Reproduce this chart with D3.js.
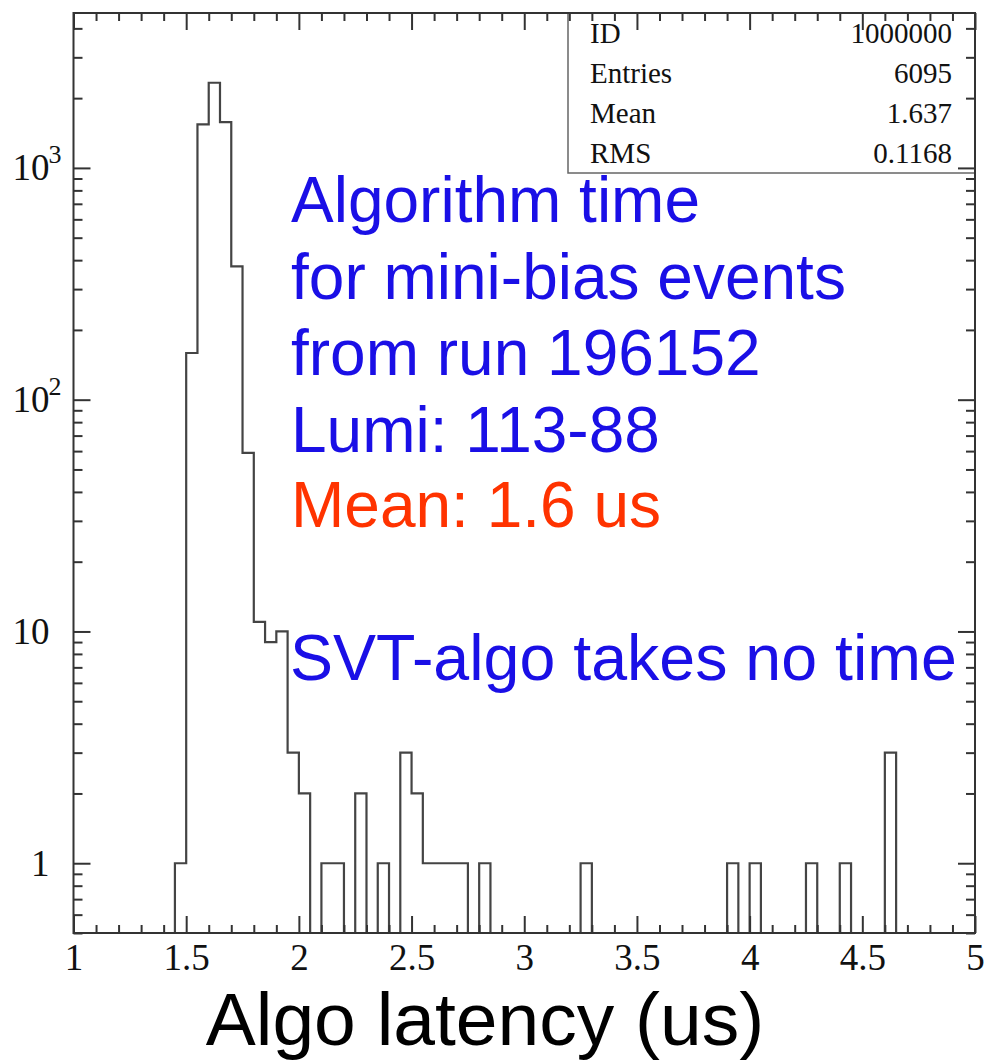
<!DOCTYPE html>
<html>
<head>
<meta charset="utf-8">
<script src="https://cdn.jsdelivr.net/npm/d3@7"></script>
<style>
  html, body { margin: 0; padding: 0; background: #fff; }
  svg { display: block; }
</style>
</head>
<body>
<svg id="chart" width="986" height="1060"></svg>
<script>
// ---- data ----
const binWidth = 0.05;
const binLow = [1.45, 1.50, 1.55, 1.60, 1.65, 1.70, 1.75, 1.80, 1.85, 1.90, 1.95, 2.00,
                2.10, 2.15, 2.25, 2.35, 2.45, 2.50, 2.55, 2.60, 2.65, 2.70, 2.80,
                3.25, 3.90, 4.00, 4.25, 4.40, 4.60];
const counts = [1, 159, 1540, 2330, 1575, 376, 59, 11, 9, 10, 3, 2,
                1, 1, 2, 1, 3, 2, 1, 1, 1, 1, 1,
                1, 1, 1, 1, 1, 3];
const xMajorTicks = [1, 1.5, 2, 2.5, 3, 3.5, 4, 4.5, 5];
const xTickLabels = ["1", "1.5", "2", "2.5", "3", "3.5", "4", "4.5", "5"];
const yMajorTicks = [1, 10, 100, 1000];
const yTickBase = ["1", "10", "10", "10"];
const yTickExp = ["", "", "2", "3"];
const statLabels = ["ID", "Entries", "Mean", "RMS"];
const statValues = ["1000000", "6095", "1.637", "0.1168"];
const noteLines = ["Algorithm time", "for mini-bias events", "from run 196152", "Lumi: 113-88"];
const meanNote = "Mean: 1.6 us";
const svtNote = "SVT-algo takes no time";
const xTitle = "Algo latency (us)";
const xDomain = [1, 5];
const yDomain = [0.5, 4660];

// ---- layout ----
const L = 73.5, R = 975, T = 13, B = 933;
const svg = d3.select("#chart");
const x = d3.scaleLinear().domain(xDomain).range([L, R]);
const y = d3.scaleLog().domain(yDomain).range([B, T]);
const lineColor = "#333";

// ---- histogram outline ----
const pts = [];
let prevHi = null;
binLow.forEach((lo, i) => {
  const hi = +(lo + binWidth).toFixed(4);
  if (prevHi === null || Math.abs(prevHi - lo) > 1e-6) {
    if (prevHi !== null) pts.push([prevHi, yDomain[0]]);
    pts.push([lo, yDomain[0]]);
  }
  pts.push([lo, counts[i]]);
  pts.push([hi, counts[i]]);
  prevHi = hi;
});
pts.push([prevHi, yDomain[0]]);
const line = d3.line().x(d => x(d[0])).y(d => y(d[1]));
svg.append("path")
  .attr("d", line(pts))
  .attr("fill", "none")
  .attr("stroke", "#444")
  .attr("stroke-width", 2.2)
  .attr("stroke-linejoin", "miter");

// ---- stats box ----
const boxL = 568, boxB = 173;
svg.append("rect")
  .attr("x", boxL).attr("y", T).attr("width", R - boxL).attr("height", boxB - T)
  .attr("fill", "#fff").attr("stroke", "#666").attr("stroke-width", 1.5);
const statBase = [43, 83, 123, 163];
statLabels.forEach((s, i) => {
  svg.append("text").attr("x", 590).attr("y", statBase[i])
    .attr("font-family", "Liberation Serif, Times New Roman, serif")
    .attr("font-size", 29).attr("fill", "#111").text(s);
  svg.append("text").attr("x", 952).attr("y", statBase[i])
    .attr("text-anchor", "end")
    .attr("font-family", "Liberation Serif, Times New Roman, serif")
    .attr("font-size", 29).attr("fill", "#111").text(statValues[i]);
});

// ---- axes ----
const xMinor = d3.range(10, 51).map(v => v / 10).filter(v => Math.abs(v * 2 - Math.round(v * 2)) > 1e-6);
const yMinor = [];
[0.1, 1, 10, 100, 1000].forEach(dec => {
  for (let k = 2; k <= 9; k++) {
    const v = dec * k;
    if (v >= yDomain[0] && v <= yDomain[1]) yMinor.push(v);
  }
});

function styleAxis(g) {
  g.select(".domain").remove();
  g.selectAll(".tick line").attr("stroke", lineColor).attr("stroke-width", 2);
}
const serif = "Liberation Serif, Times New Roman, serif";

// bottom
const gBottom = svg.append("g").attr("transform", `translate(0,${B})`)
  .call(d3.axisBottom(x).tickValues(xMajorTicks).tickSize(-17).tickPadding(11)
        .tickFormat((d, i) => xTickLabels[i]))
  .call(styleAxis);
gBottom.selectAll("text").attr("font-family", serif).attr("font-size", 37).attr("fill", "#111");
svg.append("g").attr("transform", `translate(0,${B})`)
  .call(d3.axisBottom(x).tickValues(xMinor).tickSize(-8).tickFormat(""))
  .call(styleAxis);
// top
svg.append("g").attr("transform", `translate(0,${T})`)
  .call(d3.axisTop(x).tickValues(xMajorTicks).tickSize(-17).tickFormat(""))
  .call(styleAxis);
svg.append("g").attr("transform", `translate(0,${T})`)
  .call(d3.axisTop(x).tickValues(xMinor).tickSize(-8).tickFormat(""))
  .call(styleAxis);
// left
const gLeft = svg.append("g").attr("transform", `translate(${L},0)`)
  .call(d3.axisLeft(y).tickValues(yMajorTicks).tickSize(-17).tickFormat(""))
  .call(styleAxis);
gLeft.selectAll(".tick").each(function(d, i) {
  const g = d3.select(this);
  g.append("text").attr("x", -24).attr("y", 12)
    .attr("text-anchor", "end")
    .attr("font-family", serif).attr("font-size", 37).attr("fill", "#111")
    .text(yTickBase[i]);
  if (yTickExp[i]) {
    g.append("text").attr("x", -12).attr("y", -5)
      .attr("font-family", serif).attr("font-size", 26).attr("fill", "#111")
      .text(yTickExp[i]);
  }
});
svg.append("g").attr("transform", `translate(${L},0)`)
  .call(d3.axisLeft(y).tickValues(yMinor).tickSize(-9).tickFormat(""))
  .call(styleAxis);
// right
svg.append("g").attr("transform", `translate(${R},0)`)
  .call(d3.axisRight(y).tickValues(yMajorTicks).tickSize(-17).tickFormat(""))
  .call(styleAxis);
svg.append("g").attr("transform", `translate(${R},0)`)
  .call(d3.axisRight(y).tickValues(yMinor).tickSize(-9).tickFormat(""))
  .call(styleAxis);

// frame
svg.append("rect").attr("x", L).attr("y", T).attr("width", R - L).attr("height", B - T)
  .attr("fill", "none").attr("stroke", lineColor).attr("stroke-width", 2);

// ---- annotations ----
const sans = "Liberation Sans, Arial, Helvetica, sans-serif";
const blue = "#1a0fe6", red = "#ff3300";
const noteBase = [222, 298.5, 375, 451.5];
noteLines.forEach((s, i) => {
  svg.append("text").attr("x", 291).attr("y", noteBase[i])
    .attr("font-family", sans).attr("font-size", 64).attr("fill", blue).text(s);
});
svg.append("text").attr("x", 291).attr("y", 527)
  .attr("font-family", sans).attr("font-size", 64).attr("fill", red).text(meanNote);
svg.append("text").attr("x", 290).attr("y", 680)
  .attr("font-family", sans).attr("font-size", 64.5).attr("fill", blue).text(svtNote);

svg.append("text").attr("x", 485).attr("y", 1045)
  .attr("text-anchor", "middle")
  .attr("font-family", sans).attr("font-size", 75).attr("fill", "#000").text(xTitle);
</script>
</body>
</html>
